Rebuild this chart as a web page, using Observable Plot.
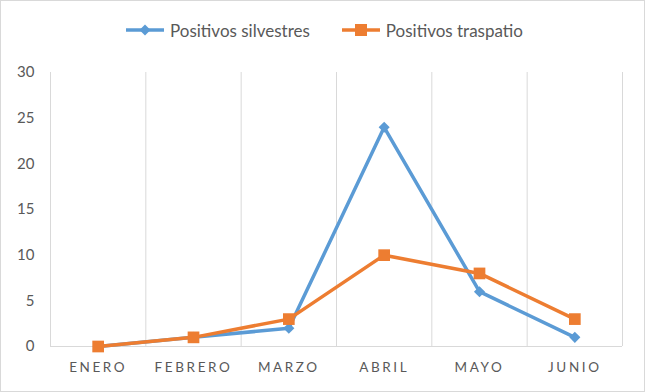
<!DOCTYPE html>
<html>
<head>
<meta charset="utf-8">
<script src="https://cdn.jsdelivr.net/npm/d3@7"></script>
<script src="https://cdn.jsdelivr.net/npm/@observablehq/plot@0.6"></script>
<style>
  html, body { margin: 0; padding: 0; background: #fff; }
  #wrap { position: relative; width: 645px; height: 392px; overflow: hidden; font-family: Lato, "Open Sans", sans-serif; }
  #frame { position: absolute; left: 0; top: 0; width: 645px; height: 392px; box-sizing: border-box; border: 1px solid #d9d9d9; pointer-events: none; }
  #legend { height: 60px; display: flex; justify-content: center; align-items: center; gap: 32px; color: #595959; font-size: 17px; padding-left: 4px; }
  .item { display: flex; align-items: center; gap: 6px; }
  #chart svg { display: block; }
  #chart g[aria-label="x-axis tick label"] text { letter-spacing: 2.6px; }
</style>
</head>
<body>
<div id="wrap">
  <div id="legend"></div>
  <div id="chart"></div>
  <div id="frame"></div>
</div>
<script>
const months = ["ENERO", "FEBRERO", "MARZO", "ABRIL", "MAYO", "JUNIO"];
const silvestres = [0, 1, 2, 24, 6, 1];
const traspatio = [0, 1, 3, 10, 8, 3];
const yTicks = [0, 5, 10, 15, 20, 25, 30];
const seriesNames = ["Positivos silvestres", "Positivos traspatio"];
const seriesColors = ["#5B9BD5", "#ED7D31"];
const seriesSymbols = ["diamond2", "square"];

const rows = [];
months.forEach((m, i) => {
  rows.push({i, month: m, value: silvestres[i], series: seriesNames[0]});
  rows.push({i, month: m, value: traspatio[i], series: seriesNames[1]});
});
const idx = months.map((m, i) => i);
const bounds = months.map((m, i) => i - 0.5).concat([months.length - 0.5]);

// Legend
const legend = document.getElementById("legend");
seriesNames.forEach((name, k) => {
  const item = document.createElement("div");
  item.className = "item";
  const marker = k === 0
    ? `<path d="M19,1.5 L24.5,7 L19,12.5 L13.5,7 Z" fill="${seriesColors[k]}"/>`
    : `<rect x="13" y="1" width="12" height="12" fill="${seriesColors[k]}"/>`;
  item.innerHTML = `<svg width="38" height="14"><line x1="0" y1="7" x2="38" y2="7" stroke="${seriesColors[k]}" stroke-width="3.5"/>${marker}</svg><span>${name}</span>`;
  legend.appendChild(item);
});

const chart = Plot.plot({
  width: 645,
  height: 332,
  marginLeft: 50,
  marginRight: 23,
  marginTop: 12,
  marginBottom: 46,
  style: {fontFamily: "Lato, 'Open Sans', sans-serif", color: "#595959", background: "transparent"},
  x: {domain: [-0.5, months.length - 0.5]},
  y: {domain: [0, 30]},
  color: {domain: seriesNames, range: seriesColors},
  symbol: {domain: seriesNames, range: seriesSymbols},
  marks: [
    Plot.ruleX(bounds, {x: d => d, y1: 0, y2: 30, stroke: "#d9d9d9", strokeWidth: 1}),
    Plot.ruleY([0], {stroke: "#d9d9d9", strokeWidth: 1}),
    Plot.axisY({ticks: yTicks, tickSize: 0, tickPadding: 16, fontSize: 15, label: null, fill: "#595959"}),
    Plot.axisX({ticks: idx, tickFormat: i => months[i], tickSize: 0, tickPadding: 16, fontSize: 13.5, label: null, fill: "#595959"}),
    Plot.line(rows, {x: "i", y: "value", z: "series", stroke: "series", strokeWidth: 3.5, strokeLinejoin: "round"}),
    Plot.dot(rows.filter(d => d.series === seriesNames[0]), {x: "i", y: "value", symbol: "series", fill: "series", stroke: null, r: 5}),
    Plot.dot(rows.filter(d => d.series === seriesNames[1]), {x: "i", y: "value", symbol: "series", fill: "series", stroke: null, r: 6.6})
  ]
});
document.getElementById("chart").appendChild(chart);
</script>
</body>
</html>
